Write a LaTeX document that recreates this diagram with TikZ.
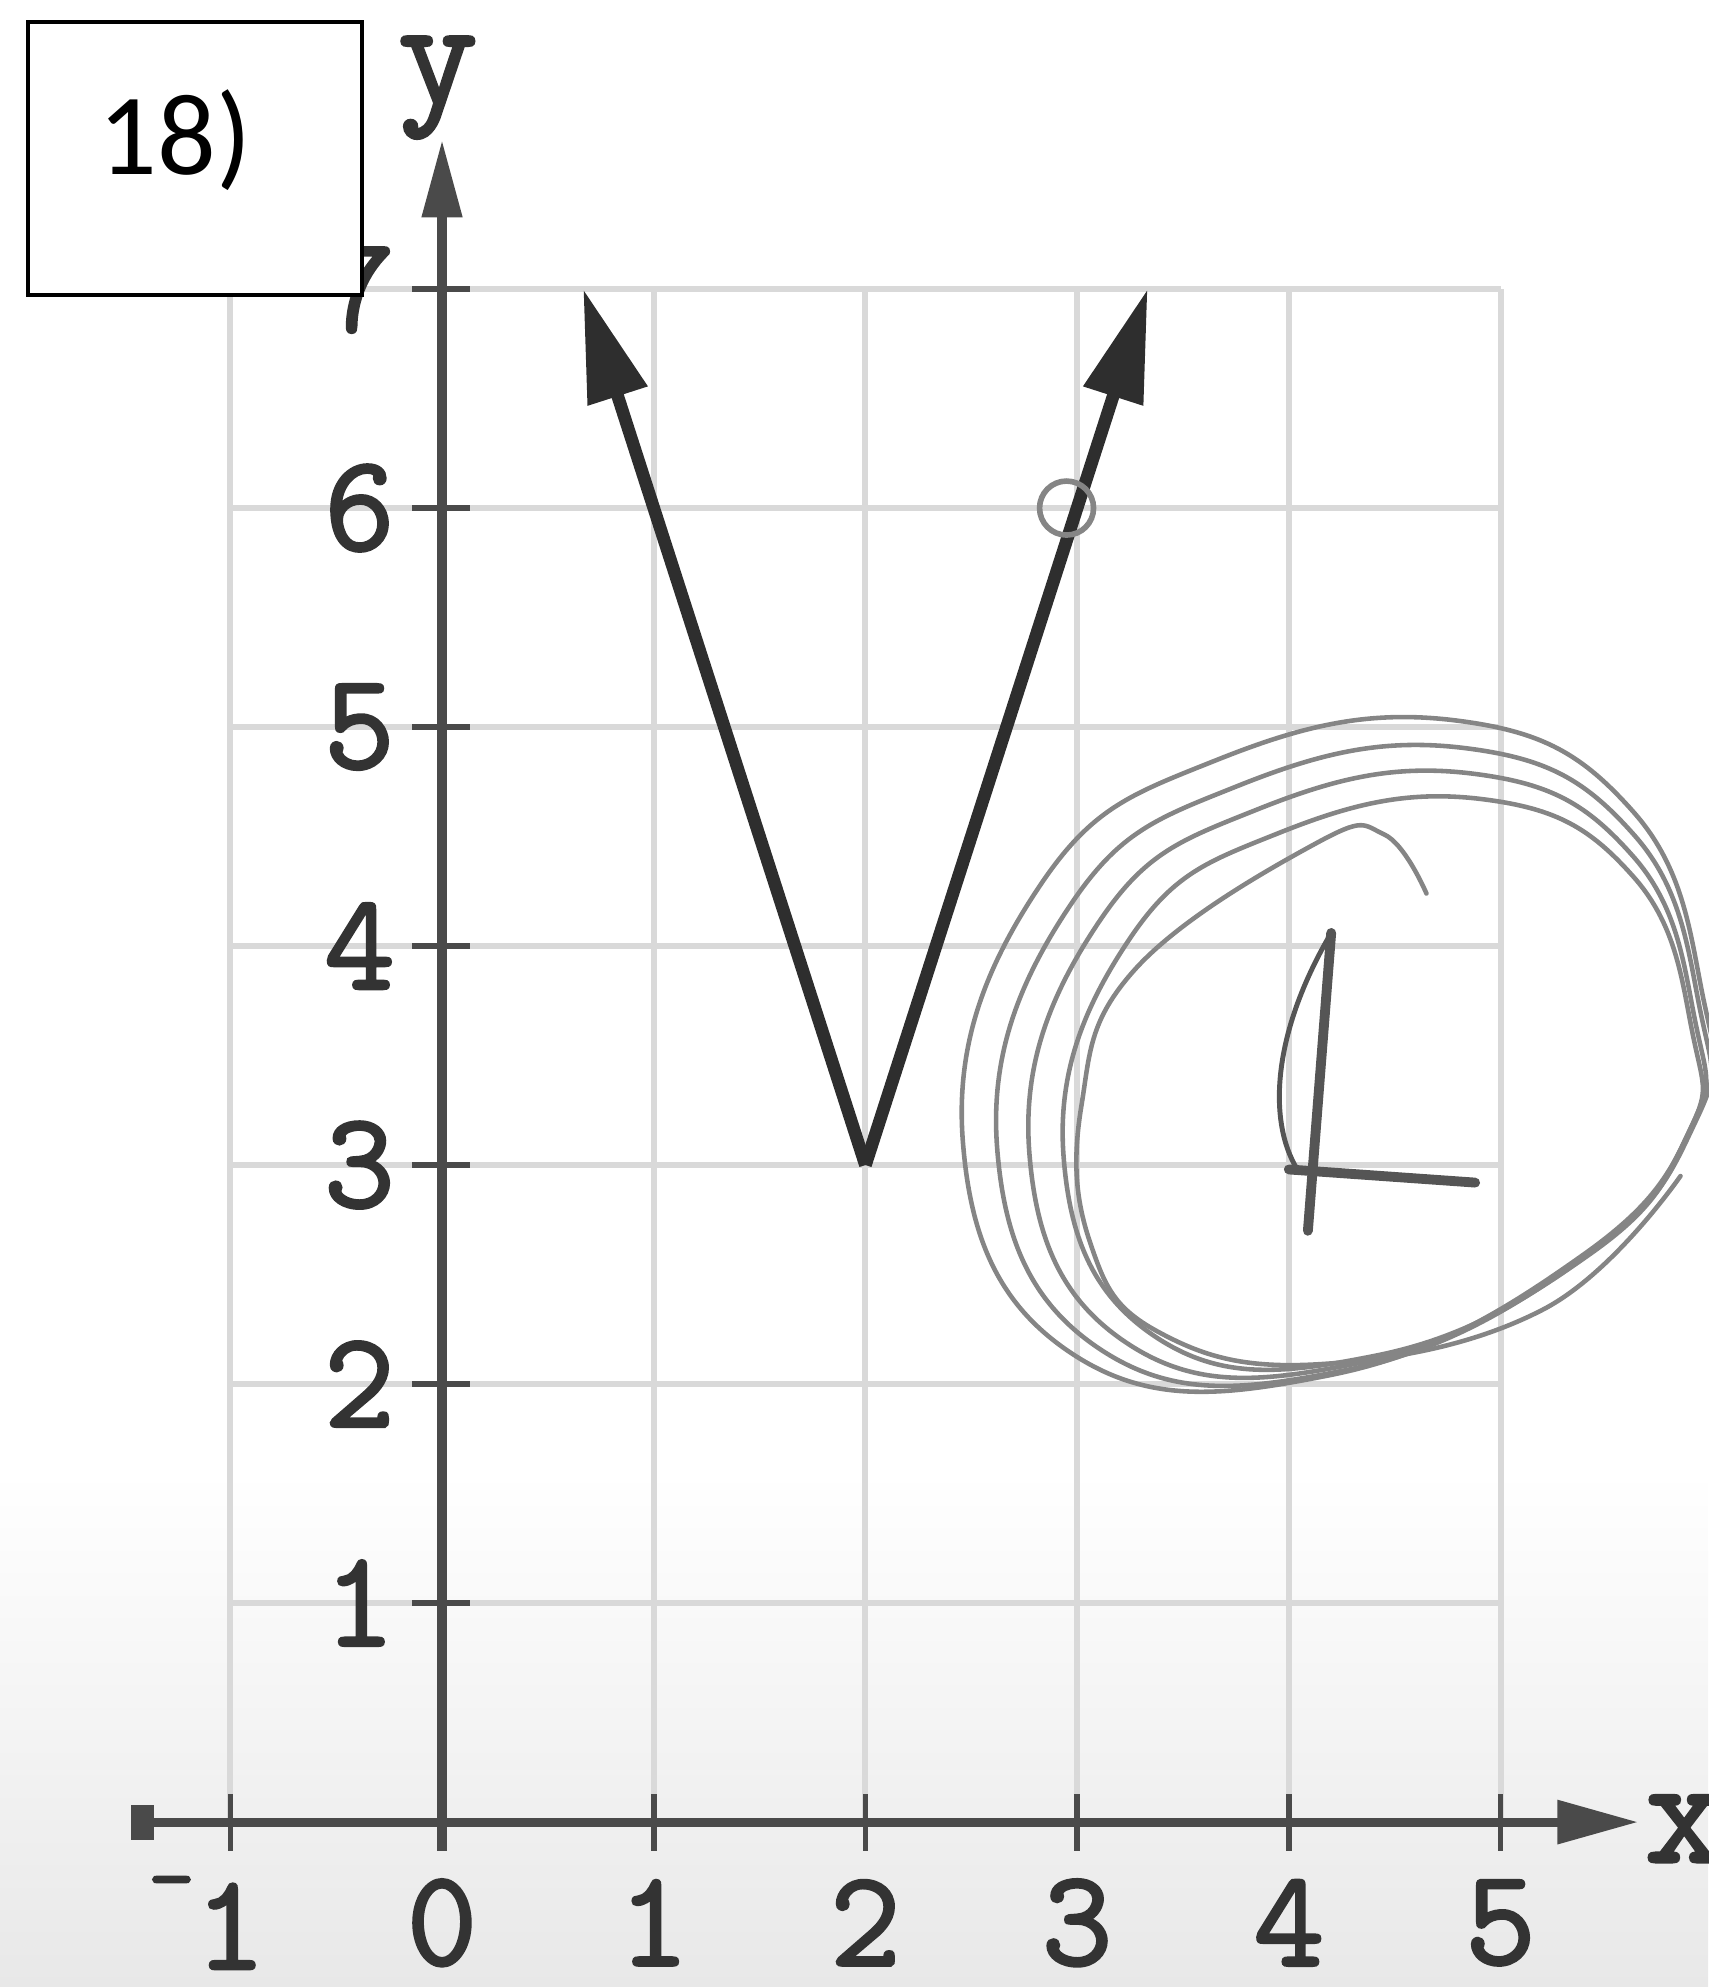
\documentclass[tikz,border=0pt]{standalone}
\usepackage{fontspec}
\usetikzlibrary{arrows.meta}
\newfontfamily\tickfont{Latin Modern Mono}[AutoFakeBold=2]
\newfontfamily\boxfont{Carlito}
\definecolor{gridcolor}{HTML}{D9D9D9}
\definecolor{axiscolor}{HTML}{4A4A4A}
\definecolor{inkcolor}{HTML}{2E2E2E}
\definecolor{pencil}{HTML}{858585}
\definecolor{pencildark}{HTML}{555555}

\begin{document}
\begin{tikzpicture}[
    x=2.117cm, y=2.19cm,
    gridline/.style={gridcolor, line width=1.7pt},
    axisline/.style={axiscolor, line width=2.6pt},
    tickline/.style={axiscolor, line width=1.6pt},
    ticklab/.style={font=\fontsize{39}{39}\selectfont\tickfont\bfseries, text=black!80, inner sep=0pt},
    graphline/.style={inkcolor, line width=3.6pt},
    scribble/.style={pencil, line width=1.3pt, line cap=round},
    lstroke/.style={pencildark, line width=2.8pt, line cap=round, line join=round},
]
\useasboundingbox (-2.088, -0.753) rectangle (5.980, 8.320);
\shade[top color=white, bottom color=black!9] (-2.088, -0.753) rectangle (5.980, 1.6);

% Grid
\foreach \k in {-1, 1, 2, 3, 4, 5} {
    \draw[gridline] (\k, 0) -- (\k, 7);
}
\foreach \k in {1, ..., 7} {
    \draw[gridline] (-1, \k) -- (5, \k);
}

% Axes
\draw[axisline, -{Triangle[length=23pt, width=12pt]}] (-1.45, 0) -- (5.65, 0);
\fill[axiscolor] (-1.47, -0.08) rectangle (-1.36, 0.08);
\draw[axisline, -{Triangle[length=22pt, width=11pt]}] (0, -0.13) -- (0, 7.68);
\node[ticklab, font=\fontsize{44}{44}\selectfont\tickfont\bfseries] (xlab) at (5.87, -0.03) {x};
\node[ticklab, font=\fontsize{44}{44}\selectfont\tickfont\bfseries] (ylab) at (-0.02, 7.92) {y};

% Ticks and labels
\foreach \k in {-1, 0, 1, 2, 3, 4, 5} {
    \draw[tickline] (\k, -0.13) -- (\k, 0.13);
}
\node[ticklab] (xm1) at (-1, -0.46) {\llap{\raisebox{0.45em}{\fontsize{26}{26}\selectfont -}}1};
\foreach \k in {0, ..., 5} {
    \node[ticklab] (x\k) at (\k, -0.46) {\k};
}
\foreach \k in {1, ..., 7} {
    \draw[tickline] (-0.14, \k) -- (0.13, \k);
    \node[ticklab, anchor=east] (y\k) at (-0.22, \k) {\k};
}

% Problem number
\node[draw=black, fill=white, line width=1pt, minimum width=3.34cm, minimum height=2.73cm,
    anchor=north west] (probbox) at (-1.965, 8.228) {};
\node[font=\fontsize{33}{33}\selectfont\boxfont, inner sep=0pt] (probnum) at (-1.26, 7.68) {18)};

% Absolute value graph
\coordinate (vtx) at (2, 3);
\coordinate (lend) at (0.667, 7);
\coordinate (rend) at (3.333, 7);
\draw[graphline, line join=round, -{Triangle[length=32pt, width=17pt]}] (vtx) -- (lend);
\draw[graphline, line join=round, -{Triangle[length=32pt, width=17pt]}] (vtx) -- (rend);
\draw[pencil, line width=1.6pt] (2.95, 6) circle (0.27cm);

% Pencil loops
\foreach \s/\dx/\dy in {1/0/0, 0.95/0.07/-0.05, 0.9/0.13/-0.09, 0.85/0.2/-0.13} {
    \begin{scope}[shift={(\dx, \dy)}, scale around={\s:(4.3, 3.5)}]
        \draw[scribble] plot[smooth cycle, tension=0.75] coordinates {
            (4.79, 5.03) (5.63, 4.61) (5.96, 3.75) (5.93, 3.23) (5.39, 2.59)
            (4.19, 2.04) (2.99, 2.13) (2.46, 3.11) (2.82, 4.27) (3.66, 4.85)};
    \end{scope}
}
\draw[scribble] plot[smooth, tension=0.7] coordinates {
    (5.85, 2.95) (5.2, 2.34) (4.13, 2.09) (3.38, 2.24) (3.06, 2.65)
    (3.02, 3.27) (3.27, 3.89) (4.13, 4.47) (4.45, 4.51) (4.65, 4.24)};

% Letter
\draw[lstroke] (4.20, 4.06) -- (4.09, 2.70);
\draw[lstroke] (4.00, 2.98) -- (4.88, 2.92);
\draw[lstroke, line width=1.4pt] (4.20, 4.06) .. controls (3.92, 3.6) and (3.90, 3.2) .. (4.04, 2.98);

\end{tikzpicture}
\end{document}
